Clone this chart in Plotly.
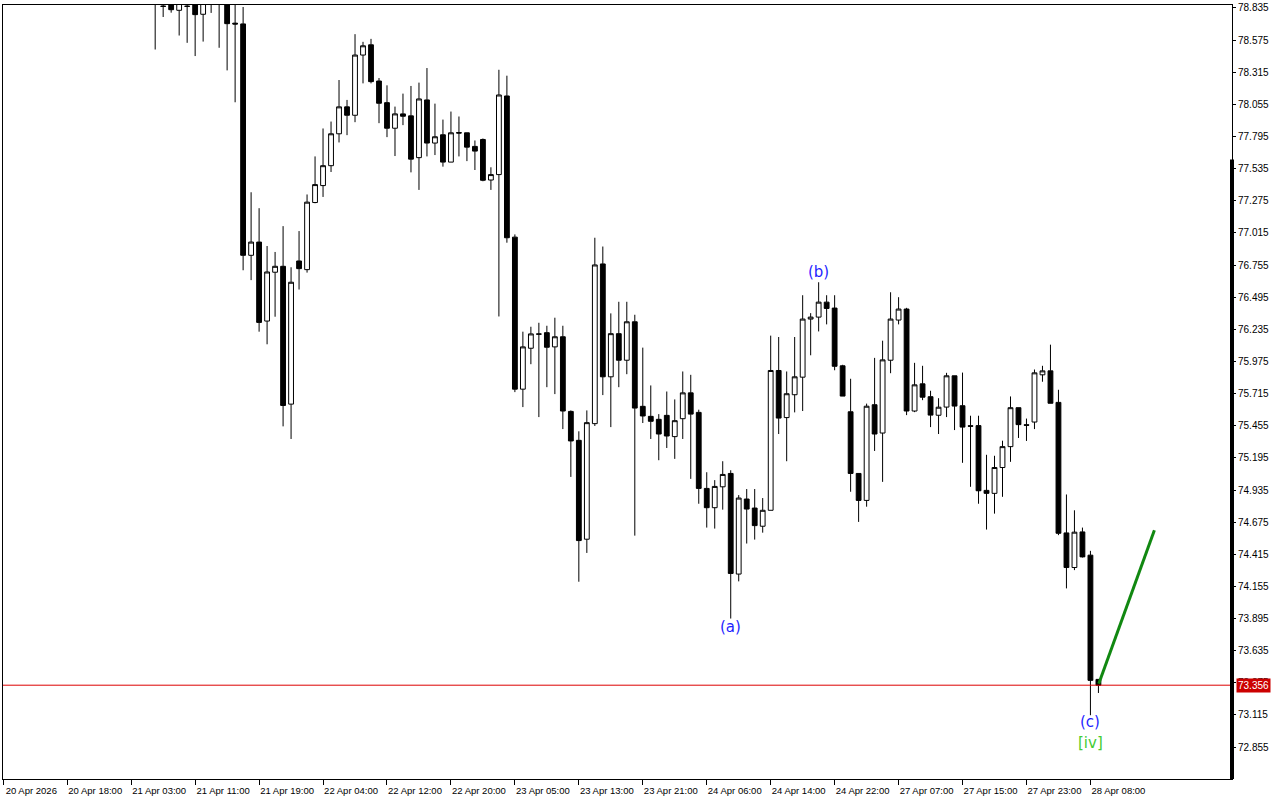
import plotly.graph_objects as go

# ---------------- data (H1 bars, index = bar number from the first axis label) ----------------
first_index = 19
opens = [
    78.92, 78.85, 78.88, 78.816, 78.85, 78.90, 78.784, 78.88, 78.95, 78.90,
    78.712, 78.706, 76.834, 76.941, 76.302, 76.697, 76.745, 75.630, 76.788, 76.718,
    77.261, 77.398, 77.559, 77.817, 78.035, 77.967, 78.454, 78.537, 78.244, 78.069,
    77.862, 77.978, 77.962, 77.624, 78.091, 77.742, 77.809, 77.588, 77.827, 77.825,
    77.715, 77.771, 77.443, 77.487, 78.123, 76.981, 75.751, 76.082, 76.198, 76.208,
    76.093, 76.175, 75.571, 75.337, 74.537, 75.472, 76.764, 75.851, 76.200, 75.985,
    76.296, 75.612, 75.531, 75.507, 75.539, 75.367, 75.512, 75.721, 75.563, 74.948,
    74.792, 74.961, 75.069, 74.255, 74.862, 74.789, 74.642, 74.771, 75.902, 75.521,
    75.706, 75.848, 76.318, 76.334, 76.455, 76.407, 75.940, 75.568, 75.069, 74.851,
    75.625, 75.396, 75.985, 76.310, 76.399, 75.574, 75.794, 75.690, 75.540, 75.606,
    75.859, 75.617, 75.455, 75.456, 74.932, 74.908, 75.117, 75.286, 75.601, 75.463,
    75.485, 75.867, 75.899, 75.644, 74.588, 74.308, 74.596, 74.408, 73.403,
]
highs = [
    79.05, 78.95, 78.95, 78.95, 78.95, 78.98, 78.95, 78.95, 79.02, 79.00,
    78.95, 78.843, 77.344, 77.215, 76.909, 76.861, 77.070, 76.737, 77.030, 77.326,
    77.634, 77.860, 77.916, 78.252, 78.091, 78.623, 78.561, 78.585, 78.268, 78.209,
    78.037, 78.142, 78.204, 78.231, 78.349, 78.061, 77.932, 77.997, 77.957, 77.825,
    77.763, 77.779, 77.546, 78.335, 78.287, 77.003, 76.216, 76.256, 76.288, 76.264,
    76.329, 76.264, 75.579, 75.410, 75.579, 76.976, 76.905, 76.364, 76.458, 76.458,
    76.353, 76.087, 75.781, 75.549, 75.732, 75.668, 75.894, 75.867, 75.585, 75.079,
    75.015, 75.168, 75.095, 74.894, 74.943, 74.943, 74.870, 76.184, 76.173, 75.894,
    76.173, 76.511, 76.366, 76.616, 76.511, 76.511, 75.948, 75.835, 75.069, 75.634,
    76.004, 76.143, 76.535, 76.495, 76.409, 75.964, 75.940, 75.738, 75.678, 75.883,
    75.859, 75.885, 75.536, 75.536, 75.220, 75.212, 75.334, 75.692, 75.601, 75.513,
    75.910, 75.940, 76.111, 75.746, 74.899, 74.771, 74.631, 74.443, 73.403,
]
lows = [
    78.499, 78.762, 78.797, 78.612, 78.553, 78.446, 78.563, 78.795, 78.513, 78.330,
    78.072, 76.713, 76.633, 76.216, 76.114, 76.337, 75.450, 75.348, 76.557, 76.694,
    77.255, 77.306, 77.508, 77.747, 77.806, 77.911, 78.225, 78.225, 77.903, 77.790,
    77.637, 77.887, 77.505, 77.363, 77.634, 77.645, 77.551, 77.588, 77.634, 77.596,
    77.524, 77.433, 77.363, 76.339, 76.936, 75.727, 75.606, 75.953, 75.525, 75.767,
    75.711, 75.428, 75.041, 74.193, 74.426, 75.453, 75.703, 75.444, 75.767, 75.872,
    74.566, 75.477, 75.348, 75.176, 75.275, 75.187, 75.348, 75.025, 74.824, 74.631,
    74.623, 74.776, 73.895, 74.196, 74.502, 74.534, 74.590, 74.771, 75.388, 75.168,
    75.563, 75.574, 76.025, 76.218, 76.275, 75.904, 75.695, 74.921, 74.677, 74.800,
    75.251, 75.001, 75.880, 76.275, 75.541, 75.565, 75.662, 75.444, 75.388, 75.525,
    75.420, 75.155, 74.961, 74.824, 74.615, 74.744, 74.880, 75.163, 75.356, 75.332,
    75.428, 75.811, 75.637, 74.570, 74.139, 74.287, 74.389, 73.113, 73.293,
]
closes = [
    78.95, 78.848, 78.821, 78.88, 78.848, 78.781, 78.90, 78.92, 78.90, 78.708,
    78.705, 76.834, 76.941, 76.291, 76.699, 76.745, 75.619, 76.616, 76.726, 77.264,
    77.406, 77.559, 77.817, 78.035, 77.967, 78.454, 78.529, 78.239, 78.064, 77.862,
    77.978, 77.959, 77.612, 78.099, 77.742, 77.793, 77.588, 77.825, 77.823, 77.709,
    77.677, 77.441, 77.487, 78.131, 76.976, 75.751, 76.093, 76.198, 76.196, 76.090,
    76.175, 75.574, 75.332, 74.526, 75.480, 76.756, 75.851, 76.200, 75.985, 76.296,
    75.598, 75.534, 75.491, 75.388, 75.372, 75.496, 75.721, 75.549, 74.948, 74.792,
    74.964, 75.061, 74.260, 74.870, 74.781, 74.647, 74.771, 75.902, 75.517, 75.714,
    75.851, 76.318, 76.334, 76.455, 76.404, 75.936, 75.695, 75.069, 74.851, 75.613,
    75.388, 75.988, 76.318, 76.399, 75.574, 75.786, 75.686, 75.541, 75.605, 75.859,
    75.614, 75.444, 75.451, 74.929, 74.908, 75.117, 75.286, 75.601, 75.464, 75.459,
    75.883, 75.899, 75.637, 74.585, 74.308, 74.594, 74.394, 73.395, 73.356,
]
bars = list(range(first_index, first_index + len(opens)))

tick_bars = [0, 8, 16, 24, 32, 40, 48, 56, 64, 72, 80, 88, 96, 104, 112, 120, 128, 136]
tick_labels = [
    "20 Apr 2026", "20 Apr 18:00", "21 Apr 03:00", "21 Apr 11:00", "21 Apr 19:00",
    "22 Apr 04:00", "22 Apr 12:00", "22 Apr 20:00", "23 Apr 05:00", "23 Apr 13:00",
    "23 Apr 21:00", "24 Apr 06:00", "24 Apr 14:00", "24 Apr 22:00", "27 Apr 07:00",
    "27 Apr 15:00", "27 Apr 23:00", "28 Apr 08:00",
]
price_ticks = [78.835, 78.575, 78.315, 78.055, 77.795, 77.535, 77.275, 77.015, 76.755,
               76.495, 76.235, 75.975, 75.715, 75.455, 75.195, 74.935, 74.675, 74.415,
               74.155, 73.895, 73.635, 73.375, 73.115, 72.855]
current_price = 73.356

wave_labels = ["(a)", "(b)", "(c)", "[iv]"]
wave_bars = [91, 102, 136, 136]
wave_prices = [73.830, 76.699, 73.057, 72.888]
wave_colors = ["#1f1fff", "#1f1fff", "#1f1fff", "#44cc33"]

proj_bars = [137.04, 144.0]
proj_prices = [73.368, 74.610]

# ---------------- figure ----------------
fig = go.Figure()
fig.add_trace(go.Candlestick(
    x=bars, open=opens, high=highs, low=lows, close=closes,
    increasing=dict(line=dict(color="black", width=1), fillcolor="white"),
    decreasing=dict(line=dict(color="black", width=1), fillcolor="black"),
    whiskerwidth=0, hoverinfo="skip", showlegend=False,
))
fig.add_trace(go.Scatter(
    x=proj_bars, y=proj_prices, mode="lines",
    line=dict(color="#118811", width=3), hoverinfo="skip", showlegend=False,
))

for txt, xb, yp, col in zip(wave_labels, wave_bars, wave_prices, wave_colors):
    fig.add_annotation(x=xb, y=yp, xref="x", yref="y", text=txt, showarrow=False,
                       font=dict(family="DejaVu Sans", size=15, color=col))

# current price line and label
fig.add_shape(type="line", xref="paper", x0=0, x1=1, yref="y", y0=current_price, y1=current_price,
              line=dict(color="#dd0000", width=1))
fig.add_annotation(xref="paper", x=1, xshift=4, xanchor="left", yref="y", y=current_price,
                   text=f"{current_price:.3f}", showarrow=False, bgcolor="#cc0000",
                   borderpad=1, font=dict(family="Liberation Sans", size=10, color="white"))
# thick marker on the price scale
fig.add_shape(type="line", xref="paper", x0=1, x1=1, yref="paper", y0=0, y1=0.8005,
              line=dict(color="black", width=4))

fig.update_layout(
    width=1280, height=800,
    margin=dict(l=2, r=48, t=2, b=21),
    paper_bgcolor="white", plot_bgcolor="white",
    showlegend=False,
    boxgap=0.4, boxgroupgap=0,
    font=dict(family="Liberation Sans", size=10, color="black"),
)
fig.update_xaxes(
    range=[-0.0375, 153.71], rangeslider=dict(visible=False),
    tickmode="array", tickvals=tick_bars, ticktext=tick_labels,
    ticks="outside", ticklen=5, tickcolor="black", tickwidth=1,
    ticklabelshift=28, ticklabelstandoff=-2,
    tickfont=dict(family="Liberation Sans", size=9.5, color="black"),
    showgrid=False, zeroline=False,
    showline=True, linecolor="black", linewidth=1, mirror=True,
)
fig.update_yaxes(
    range=[72.597, 78.859], side="right",
    tickmode="array", tickvals=price_ticks, ticktext=[f"{v:.3f}" for v in price_ticks],
    ticks="outside", ticklen=3, tickcolor="black", tickwidth=1,
    ticklabeloverflow="allow",
    tickfont=dict(family="Liberation Sans", size=10, color="black"),
    showgrid=False, zeroline=False,
    showline=True, linecolor="black", linewidth=1, mirror=True,
)

fig.write_html(
    "out.html",
    config={"displayModeBar": False},
    post_script="document.body.style.margin='0';document.body.style.overflow='hidden';",
)
